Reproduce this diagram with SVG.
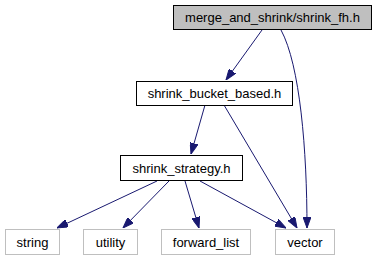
<svg xmlns="http://www.w3.org/2000/svg" width="375" height="261" viewBox="0 0 375 261">
<style>
  .box { fill: #ffffff; stroke: #000000; stroke-width: 1; }
  .root { fill: #bfbfbf; stroke: #000000; stroke-width: 1; }
  .leaf { fill: #ffffff; stroke: #bfbfbf; stroke-width: 1; }
  text { font-family: "Liberation Sans", Arial, sans-serif; font-size: 13px; fill: #000000; text-anchor: middle; }
  .edge { fill: none; stroke: #191970; stroke-width: 1; }
</style>
<defs>
  <marker id="arrow" viewBox="0 0 11 8" refX="11" refY="4" markerWidth="11" markerHeight="8" markerUnits="userSpaceOnUse" orient="auto">
    <path d="M0,0 L11,4 L0,8 Z" fill="#191970" stroke="#191970"/>
  </marker>
</defs>
<rect width="375" height="261" fill="#ffffff"/>
<g id="connectors">
  <path class="edge" marker-end="url(#arrow)" d="M262,30 L226,80"/>
  <path class="edge" marker-end="url(#arrow)" d="M281,30 C300,65 307,150 307,228"/>
  <path class="edge" marker-end="url(#arrow)" d="M205,105 L191,154"/>
  <path class="edge" marker-end="url(#arrow)" d="M224,105 L297,228"/>
  <path class="edge" marker-end="url(#arrow)" d="M157,181 L57,228"/>
  <path class="edge" marker-end="url(#arrow)" d="M169,181 L123,228"/>
  <path class="edge" marker-end="url(#arrow)" d="M185,181 L199,228"/>
  <path class="edge" marker-end="url(#arrow)" d="M200,181 L286,228"/>
</g>
<g id="node-shrink_fh">
  <rect class="root" x="173.5" y="5.5" width="198" height="24"/>
  <text x="272.5" y="22">merge_and_shrink/shrink_fh.h</text>
</g>
<g id="node-shrink_bucket_based">
  <rect class="box" x="136.5" y="81.5" width="156" height="24"/>
  <text x="214.5" y="98">shrink_bucket_based.h</text>
</g>
<g id="node-shrink_strategy">
  <rect class="box" x="120.5" y="155.5" width="122" height="25"/>
  <text x="181.5" y="172.5">shrink_strategy.h</text>
</g>
<g id="node-string">
  <rect class="leaf" x="5.5" y="229.5" width="54" height="25"/>
  <text x="32.5" y="246.5">string</text>
</g>
<g id="node-utility">
  <rect class="leaf" x="83.5" y="229.5" width="54" height="25"/>
  <text x="110.5" y="246.5">utility</text>
</g>
<g id="node-forward_list">
  <rect class="leaf" x="161.5" y="229.5" width="89" height="25"/>
  <text x="206" y="246.5">forward_list</text>
</g>
<g id="node-vector">
  <rect class="leaf" x="275.5" y="229.5" width="59" height="25"/>
  <text x="305" y="246.5">vector</text>
</g>
</svg>
